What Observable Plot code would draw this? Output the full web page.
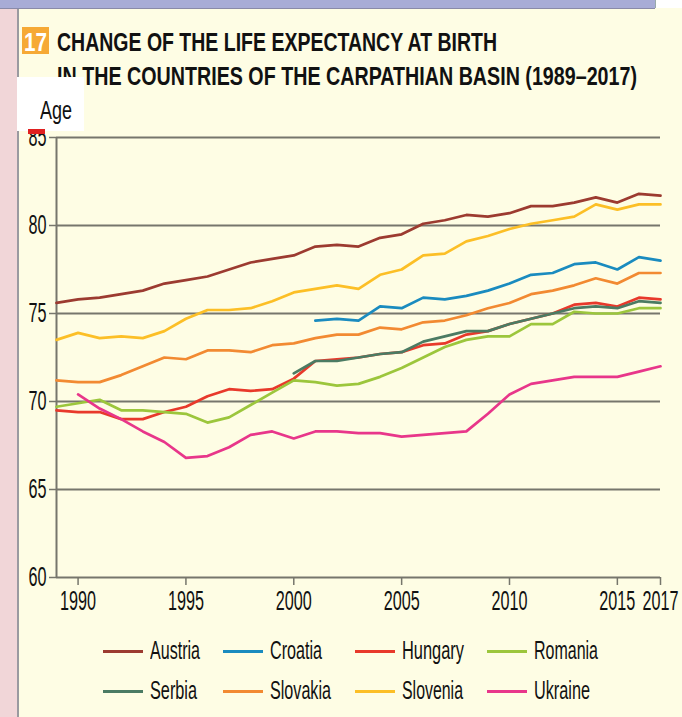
<!DOCTYPE html>
<html>
<head>
<meta charset="utf-8">
<script src="https://cdn.jsdelivr.net/npm/d3@7"></script>
<script src="https://cdn.jsdelivr.net/npm/@observablehq/plot@0.6"></script>
<style>
  html, body { margin:0; padding:0; }
  body { width:682px; height:717px; overflow:hidden; position:relative; background:#fefde4; font-family:"Liberation Sans", Arial, sans-serif; }
  .abs { position:absolute; white-space:nowrap; line-height:1; }
  .sq { display:inline-block; transform-origin:0 0; }
</style>
</head>
<body>
<div class="abs" style="left:0;top:0;width:17px;height:717px;background:#f1d6d8;border-right:2px solid #9a9aa0;"></div>
<div class="abs" style="left:0;top:0;width:655px;height:8px;background:#a8acd6;border-bottom:1px solid #8a8aa8;"></div>
<div class="abs" style="left:655px;top:0;width:27px;height:8px;background:#ffffff;border-left:1px solid #9aa;"></div>

<div class="abs" style="left:22px;top:27px;width:27px;height:27px;background:#f6a935;"></div>
<div class="abs" id="num" style="left:24px;top:30px;font-size:25px;font-weight:bold;color:#fff;"><span class="sq" data-w="23">17</span></div>
<div class="abs" style="left:57px;top:30px;font-size:25px;font-weight:bold;color:#111;"><span class="sq" data-w="440">CHANGE OF THE LIFE EXPECTANCY AT BIRTH</span></div>
<div class="abs" style="left:57px;top:64px;font-size:25px;font-weight:bold;color:#111;"><span class="sq" data-w="580">IN THE COUNTRIES OF THE CARPATHIAN BASIN (1989–2017)</span></div>

<div id="chart" class="abs" style="left:0;top:100px;"></div>

<div class="abs" style="left:17px;top:77px;width:67px;height:54px;background:#ffffff;"></div>
<div class="abs" style="left:40px;top:98px;font-size:25px;color:#111;"><span class="sq" data-w="32">Age</span></div>
<div class="abs" style="left:28px;top:129px;width:17px;height:5px;background:#e02020;"></div>

<div id="legend"></div>

<script>
const years = [1989,1990,1991,1992,1993,1994,1995,1996,1997,1998,1999,2000,2001,2002,2003,2004,2005,2006,2007,2008,2009,2010,2011,2012,2013,2014,2015,2016,2017];
const countries = ["Austria","Croatia","Hungary","Romania","Serbia","Slovakia","Slovenia","Ukraine"];
const colors = ["#9c3b30","#1a8bbf","#e8392b","#9cc63c","#4b7b63","#f28a32","#fcbf26","#e8368a"];

const austria  = [75.6,75.8,75.9,76.1,76.3,76.7,76.9,77.1,77.5,77.9,78.1,78.3,78.8,78.9,78.8,79.3,79.5,80.1,80.3,80.6,80.5,80.7,81.1,81.1,81.3,81.6,81.3,81.8,81.7];
const croatia  = [null,null,null,null,null,null,null,null,null,null,null,null,74.6,74.7,74.6,75.4,75.3,75.9,75.8,76.0,76.3,76.7,77.2,77.3,77.8,77.9,77.5,78.2,78.0];
const hungary  = [69.5,69.4,69.4,69.0,69.0,69.4,69.7,70.3,70.7,70.6,70.7,71.3,72.3,72.4,72.5,72.7,72.8,73.2,73.3,73.8,74.0,74.4,74.7,75.0,75.5,75.6,75.4,75.9,75.8];
const romania  = [69.7,69.9,70.1,69.5,69.5,69.4,69.3,68.8,69.1,69.8,70.5,71.2,71.1,70.9,71.0,71.4,71.9,72.5,73.1,73.5,73.7,73.7,74.4,74.4,75.1,75.0,75.0,75.3,75.3];
const serbia   = [null,null,null,null,null,null,null,null,null,null,null,71.6,72.3,72.3,72.5,72.7,72.8,73.4,73.7,74.0,74.0,74.4,74.7,75.0,75.3,75.4,75.3,75.7,75.6];
const slovakia = [71.2,71.1,71.1,71.5,72.0,72.5,72.4,72.9,72.9,72.8,73.2,73.3,73.6,73.8,73.8,74.2,74.1,74.5,74.6,74.9,75.3,75.6,76.1,76.3,76.6,77.0,76.7,77.3,77.3];
const slovenia = [73.5,73.9,73.6,73.7,73.6,74.0,74.7,75.2,75.2,75.3,75.7,76.2,76.4,76.6,76.4,77.2,77.5,78.3,78.4,79.1,79.4,79.8,80.1,80.3,80.5,81.2,80.9,81.2,81.2];
const ukraine  = [null,70.4,69.6,69.0,68.3,67.7,66.8,66.9,67.4,68.1,68.3,67.9,68.3,68.3,68.2,68.2,68.0,68.1,68.2,68.3,69.3,70.4,71.0,71.2,71.4,71.4,71.4,71.7,72.0];

const xTicks = [1990,1995,2000,2005,2010,2015,2017];
const yTicks = [60,65,70,75,80,85];

const series = [austria,croatia,hungary,romania,serbia,slovakia,slovenia,ukraine];
const data = [];
series.forEach((arr, k) => arr.forEach((v, i) => { if (v != null) data.push({country: countries[k], year: years[i], value: v}); }));

const plot = Plot.plot({
  width: 682,
  height: 520,
  marginLeft: 56,
  marginRight: 22,
  marginTop: 37,
  marginBottom: 43,
  style: { background: "transparent", fontFamily: "'Liberation Sans', Arial, sans-serif", fontSize: "27px", color: "#111" },
  x: { domain: [1989, 2017] },
  y: { domain: [60, 85] },
  color: { domain: countries, range: colors },
  marks: [
    Plot.ruleY(yTicks, { stroke: "#76766c", strokeWidth: 2 }),
    Plot.ruleX([1989], { y1: 60, y2: 85, stroke: "#76766c", strokeWidth: 2 }),
    Plot.lineY(data, { x: "year", y: "value", z: "country", stroke: "country", strokeWidth: 2.7, strokeLinejoin: "round" }),
    Plot.axisX({ ticks: xTicks, tickFormat: d => String(d), tickSize: 8, tickPadding: 5, stroke: "#76766c", strokeWidth: 1.5, label: null, fill: "#111" }),
    Plot.axisY({ ticks: yTicks, tickSize: 7, tickPadding: 3, stroke: "#76766c", strokeWidth: 1.5, label: null, fill: "#111" })
  ]
});
document.getElementById("chart").appendChild(plot);

// squeeze tick labels horizontally (condensed face) around their anchor point
plot.querySelectorAll("g[aria-label$='tick label']").forEach(g => {
  const isY = g.getAttribute("aria-label").startsWith("y");
  g.querySelectorAll("text").forEach(t => {
    const b = t.getBBox();
    const ax = isY ? b.x + b.width : b.x + b.width / 2;
    const tr = t.getAttribute("transform") || "";
    t.setAttribute("transform", `${tr} translate(${ax},0) scale(0.6,1) translate(${-ax},0)`.trim());
  });
});

// legend
const legend = document.getElementById("legend");
const colX = [103, 223, 355, 487];
const rowY = [651, 691];
const textW = [50, 52, 62, 64, 47, 61, 61, 56];
countries.forEach((c, i) => {
  const col = i % 4, row = Math.floor(i / 4);
  const sw = document.createElement("div");
  sw.className = "abs";
  sw.style.cssText = `left:${colX[col]}px;top:${rowY[row]-1.5}px;width:40px;height:3px;background:${colors[i]};`;
  legend.appendChild(sw);
  const tx = document.createElement("div");
  tx.className = "abs";
  tx.style.cssText = `left:${colX[col]+47}px;top:${rowY[row]-13}px;font-size:25px;color:#111;`;
  tx.innerHTML = `<span class="sq" data-w="${textW[i]}">${c}</span>`;
  legend.appendChild(tx);
});

document.querySelectorAll(".sq").forEach(s => {
  const w = s.getBoundingClientRect().width;
  const target = +s.dataset.w;
  s.style.transform = `scaleX(${target / w})`;
});
</script>
</body>
</html>
